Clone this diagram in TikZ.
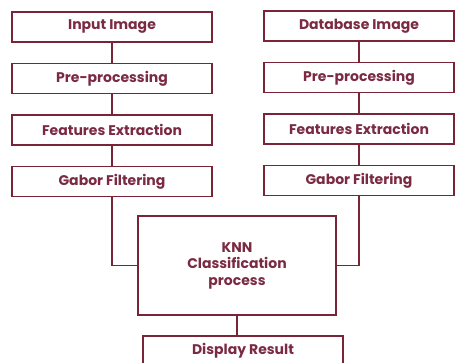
\documentclass[tikz,border=0pt]{standalone}
\usepackage{fontspec}
\setmainfont{Poppins}
\usepackage{xcolor}
\usetikzlibrary{positioning}

\definecolor{boxline}{HTML}{7A2438}
\definecolor{boxtext}{HTML}{7A2A42}

\begin{document}
\begin{tikzpicture}[x=1pt, y=1pt,
        block/.style={rectangle, draw=boxline, line width=1.5pt, align=center, text=boxtext,
            font=\fontsize{14}{16.5}\selectfont\bfseries, minimum width=200pt, minimum height=30pt, inner sep=0pt},
        link/.style={draw=boxline, line width=1.5pt}]

        \useasboundingbox (0,0) rectangle (456,363);

        % Left column
        \node[block] (input) at (112,336) {Input Image};
        \node[block, below=20pt of input] (preL) {Pre-processing};
        \node[block, below=20pt of preL] (featL) {Features Extraction};
        \node[block, below=20pt of featL] (gaborL) {Gabor Filtering};

        % Right column
        \node[block, minimum width=190pt] (dbase) at (359,337) {Database Image};
        \node[block, minimum width=190pt, below=20pt of dbase] (preR) {Pre-processing};
        \node[block, minimum width=190pt, below=20pt of preR] (featR) {Features Extraction};
        \node[block, minimum width=190pt, below=20pt of featR] (gaborR) {Gabor Filtering};

        % Classifier and output
        \node[block, minimum width=198pt, minimum height=99pt] (knn) at (237,97.5) {KNN\\Classification\\process};
        \node[block] (result) at (243,12) {Display Result};

        % Links
        \draw[link] (input) -- (preL);
        \draw[link] (preL) -- (featL);
        \draw[link] (featL) -- (gaborL);
        \draw[link] (dbase) -- (preR);
        \draw[link] (preR) -- (featR);
        \draw[link] (featR) -- (gaborR);

        \draw[link] (gaborL.south) |- (knn.west);
        \draw[link] (gaborR.south) |- (knn.east);
        \draw[link] (knn.south) -- (knn.south |- result.north);

    \end{tikzpicture}
\end{document}
